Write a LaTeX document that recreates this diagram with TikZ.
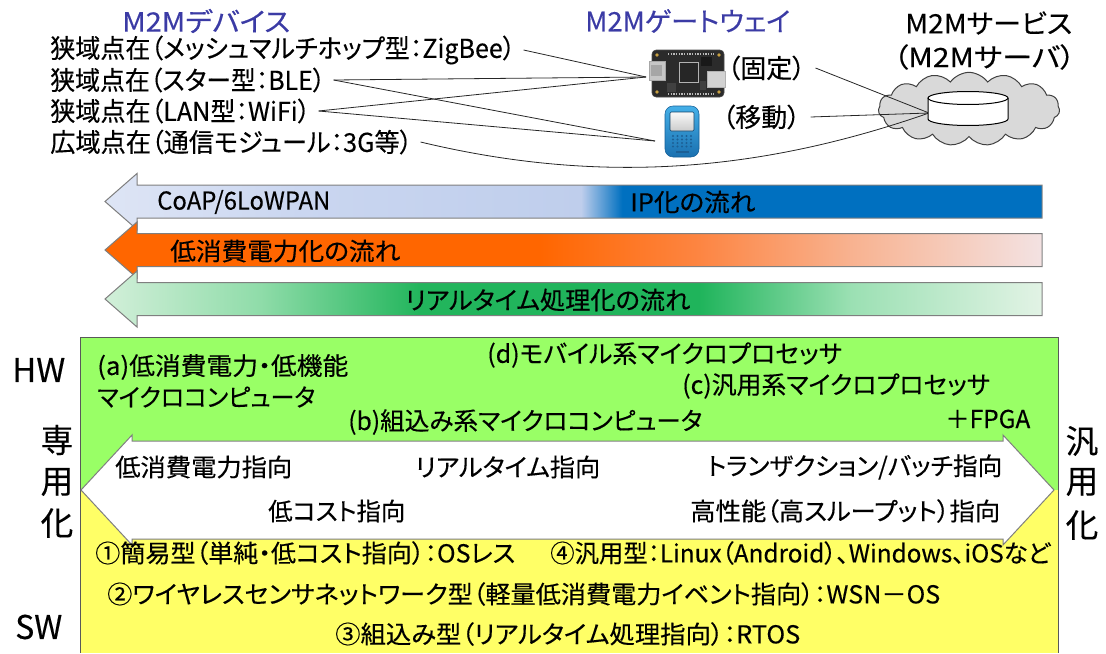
\documentclass[tikz,border=0pt]{standalone}
\usepackage{fontspec}
\setmainfont{Noto Sans CJK JP}[FakeBold=0.3, RawFeature=+palt]
\usepackage{graphicx}
\usetikzlibrary{shapes.symbols}

% one drawing unit = one pixel of a 1106 x 653 canvas
\newdimen\pxu \pxu=0.75pt
\newcommand\fw[2]{\resizebox{#1\pxu}{\height}{#2}}
\newcommand\szH{\fontsize{20pt}{23pt}\selectfont}
\newcommand\szA{\fontsize{19.5pt}{22pt}\selectfont}
\newcommand\szB{\fontsize{18.5pt}{21pt}\selectfont}
\newcommand\szS{\fontsize{24.5pt}{28pt}\selectfont}

\definecolor{m2mblue}{HTML}{3B3BA5}
\definecolor{hwgreen}{HTML}{99FF66}
\definecolor{swyellow}{HTML}{FFFF66}
\definecolor{panelline}{HTML}{595959}
\definecolor{arrowline}{HTML}{7F7F7F}
\definecolor{cloudfill}{HTML}{D9D9D9}
\definecolor{cloudline}{HTML}{404040}
\definecolor{brdbk}{HTML}{2B2B2B}
\definecolor{goldc}{HTML}{C8A040}
\definecolor{phoneA}{HTML}{45B0E8}
\definecolor{phoneB}{HTML}{1A70B0}
\definecolor{phoneC}{HTML}{155E96}
\definecolor{phoneK}{HTML}{1C5F95}

\definecolor{ipA}{HTML}{DEE5F5}
\definecolor{ipB}{HTML}{CAD6F0}
\definecolor{ipC}{HTML}{BFCEEC}
\definecolor{ipD}{HTML}{0070C0}
\definecolor{pwA}{HTML}{FF6600}
\definecolor{pwB}{HTML}{FD8542}
\definecolor{pwC}{HTML}{F8B290}
\definecolor{pwD}{HTML}{F3E2E2}
\definecolor{rtA}{HTML}{D2EFD9}
\definecolor{rtB}{HTML}{8FDCA9}
\definecolor{rtC}{HTML}{22B55C}
\definecolor{rtD}{HTML}{1FB45B}
\definecolor{rtE}{HTML}{9BE0B3}
\definecolor{rtF}{HTML}{E2F3E5}

% flow arrows: the path box is mapped onto 25bp..75bp
\pgfdeclarehorizontalshading{ipflow}{100bp}{color(0bp)=(ipA); color(25bp)=(ipA); color(35.4bp)=(ipB); color(50.4bp)=(ipC); color(52.6bp)=(ipD); color(100bp)=(ipD)}
\pgfdeclarehorizontalshading{pwflow}{100bp}{color(0bp)=(pwA); color(25bp)=(pwA); color(48.2bp)=(pwA); color(56.7bp)=(pwB); color(64.8bp)=(pwC); color(75bp)=(pwD); color(100bp)=(pwD)}
\pgfdeclarehorizontalshading{rtflow}{100bp}{color(0bp)=(rtA); color(25bp)=(rtA); color(33.3bp)=(rtB); color(41.8bp)=(rtC); color(56.7bp)=(rtD); color(64.8bp)=(rtE); color(75bp)=(rtF); color(100bp)=(rtF)}

\begin{document}
\begin{tikzpicture}[x=0.75pt,y=-0.75pt,
  lbl/.style={inner sep=0pt, anchor=west, font=\szA},
  dev/.style={inner ysep=0pt, inner xsep=6pt, anchor=west, font=\szA},
  hdr/.style={inner sep=0pt, anchor=west, font=\szH},
  ptxt/.style={inner sep=0pt, anchor=west, font=\szB},
  side/.style={inner sep=0pt, anchor=center, font=\szS},
  conn/.style={draw=black!85, line width=0.6pt},
  flow/.style={draw=arrowline, line width=0.75pt}]
\useasboundingbox (0,0) rectangle (1106,653);

% ---------- headings ----------
\node[hdr, text=m2mblue] (hdev) at (122,21) {\fw{168}{M2Mデバイス}};
\node[hdr, text=m2mblue] (hgw) at (585,21) {\fw{205}{M2Mゲートウェイ}};
\node[hdr] (hsv) at (905,23) {\fw{167}{M2Mサービス}};
\node[hdr] (hsv2) at (893,57) {\fw{182}{（M2Mサーバ）}};

% ---------- device classes (text starts at x=50) ----------
\node[dev] (d1) at (42,50) {\fw{465}{狭域点在（メッシュマルチホップ型：ZigBee）}};
\node[dev] (d2) at (42,80) {\fw{275}{狭域点在（スター型：BLE）}};
\node[dev] (d3) at (42,111) {\fw{260}{狭域点在（LAN型：WiFi）}};
\node[dev] (d4) at (42,142) {\fw{362}{広域点在（通信モジュール：3G等）}};

% ---------- gateways ----------
\node[dev, inner xsep=7.5pt] (gfix) at (717,68) {\fw{78}{（固定）}};
\node[dev, inner xsep=7.5pt] (gmob) at (712,117) {\fw{78}{（移動）}};

% board computer (fixed gateway)
\node[inner sep=0pt, minimum width=54pt, minimum height=34pt] (board) at (688,73.5) {};
\filldraw[fill=brdbk, draw=black!70, rounded corners=3pt] (652,50) rectangle (724,97);
\filldraw[fill=gray!45, draw=gray!70] (649,61) rectangle (665,80);
\fill[gray!70] (651,65) rectangle (662,76);
\filldraw[fill=black!85, draw=gray!60] (679,62) rectangle (698,82);
\fill[black!90] (701,57) rectangle (712,66);
\fill[black!75] (667,83) rectangle (676,92);
\fill[black!75] (700,81) rectangle (706,90);
\filldraw[fill=gray!35, draw=gray!60] (707,71) rectangle (725,87);
\draw[gray!55, line width=1.5pt, dash pattern=on 1pt off 1pt] (668,54) -- (714,54);
\draw[gray!55, line width=1.5pt, dash pattern=on 1pt off 1pt] (668,93.5) -- (714,93.5);
\foreach \p in {(657,55),(719,55),(657,92),(719,92)} \fill[goldc] \p circle[radius=1.8];

% handset (mobile gateway)
\node[inner sep=0pt, minimum width=26pt, minimum height=38pt] (phone) at (682,131) {};
\shadedraw[top color=phoneA, bottom color=phoneB, draw=phoneC, rounded corners=6pt] (665,106) rectangle (699,157);
\shadedraw[top color=gray!5, bottom color=gray!40, draw=phoneC!70!black, rounded corners=1pt] (670,112) rectangle (694,131);
\foreach \i in {0,...,4} \foreach \j in {0,...,3} \fill[phoneK] ({673+\i*4.5},{136+\j*3.5}) circle[radius=1.1];
\fill[phoneK] (676,150.5) rectangle (689,152.5);

\coordinate (bport) at (646,77);
\coordinate (pport) at (655,141);

% ---------- service cloud ----------
\node[cloud, cloud puffs=15, cloud puff arc=110, aspect=2.6, draw=cloudline, fill=cloudfill,
      line width=0.75pt, minimum width=136pt, minimum height=55pt, inner sep=0pt] (cloud) at (969,109) {};
\node[inner sep=0pt, minimum width=60pt, minimum height=25pt] (cyl) at (968,108.5) {};
\coordinate (cylin) at (929,113);

% ---------- connectors ----------
\draw[conn] (d1.east) -- (bport);
\draw[conn] (d2.east) -- (bport);
\draw[conn] (d2.east) -- (pport);
\draw[conn] (d3.east) -- (bport);
\draw[conn] (d3.east) -- (pport);
\draw[conn] (d4.east) .. controls (600,185) and (760,172) .. (cylin);
\draw[conn] (gfix.east) -- (cylin);
\draw[conn] (gmob.east) -- (cylin);

% database cylinder
\fill[white] (928,98) arc[start angle=180, end angle=360, x radius=40, y radius=6.5]
  -- (1008,119) arc[start angle=0, end angle=180, x radius=40, y radius=6.5] -- cycle;
\draw[black, line width=0.75pt] (928,98) -- (928,119) arc[start angle=180, end angle=0, x radius=40, y radius=6.5] -- (1008,98);
\draw[black, line width=0.75pt] (968,98) ellipse[x radius=40, y radius=6.5];

% ---------- trend arrows ----------
\shadedraw[flow, shading=ipflow] (105,201.5) -- (137,173.5) -- (137,185) -- (1042,185) -- (1042,218) -- (137,218) -- (137,229.5) -- cycle;
\node[lbl, font=\szB] (fip1) at (157,202) {\fw{173}{CoAP/6LoWPAN}};
\node[lbl, font=\szB] (fip2) at (630,202) {\fw{125}{IP化の流れ}};

\shadedraw[flow, shading=pwflow] (105,250) -- (137,222) -- (137,233.5) -- (1042,233.5) -- (1042,266.5) -- (137,266.5) -- (137,278) -- cycle;
\node[lbl, font=\szB] (fpw) at (170,251) {\fw{230}{低消費電力化の流れ}};

\shadedraw[flow, shading=rtflow] (105,299) -- (137,271) -- (137,282.5) -- (1042,282.5) -- (1042,315.5) -- (137,315.5) -- (137,327) -- cycle;
\node[lbl, font=\szB] (frt) at (405,300) {\fw{285}{リアルタイム処理化の流れ}};

% ---------- HW / SW panel ----------
\fill[hwgreen] (80,337) rectangle (1058,490);
\fill[swyellow] (80,490) rectangle (1058,653);
\draw[panelline, line width=0.75pt] (80,653) -- (80,337) -- (1058,337) -- (1058,653);
\filldraw[fill=white, draw=arrowline, line width=0.75pt]
  (81,490) -- (132,435) -- (132,441) -- (1003,441) -- (1003,435) -- (1054,490)
  -- (1003,545) -- (1003,539) -- (132,539) -- (132,545) -- cycle;

\node[ptxt] (ha1) at (97,367) {\fw{251}{(a)低消費電力・低機能}};
\node[ptxt] (ha2) at (97,397) {\fw{218}{マイクロコンピュータ}};
\node[ptxt] (hd) at (487,355) {\fw{355}{(d)モバイル系マイクロプロセッサ}};
\node[ptxt] (hc) at (682,386) {\fw{308}{(c)汎用系マイクロプロセッサ}};
\node[ptxt] (hb) at (348,422) {\fw{354}{(b)組込み系マイクロコンピュータ}};
\node[ptxt] (hf) at (945,419) {\fw{85}{＋FPGA}};

\node[ptxt] (o1) at (115,467) {\fw{177}{低消費電力指向}};
\node[ptxt] (o2) at (415,467) {\fw{185}{リアルタイム指向}};
\node[ptxt] (o3) at (707,467) {\fw{295}{トランザクション/バッチ指向}};
\node[ptxt] (o4) at (268,511) {\fw{137}{低コスト指向}};
\node[ptxt] (o5) at (690,511) {\fw{310}{高性能（高スループット）指向}};

\node[ptxt] (s1) at (95,553) {\fw{420}{①簡易型（単純・低コスト指向）：OSレス}};
\node[ptxt] (s4) at (550,553) {\fw{500}{④汎用型：Linux（Android）、Windows、iOSなど}};
\node[ptxt] (s2) at (107,594) {\fw{833}{②ワイヤレスセンサネットワーク型（軽量低消費電力イベント指向）：WSN－OS}};
\node[ptxt] (s3) at (335,634) {\fw{465}{③組込み型（リアルタイム処理指向）：RTOS}};

% ---------- axis labels ----------
\node[inner sep=0pt, anchor=west, font=\szS] (lhw) at (12,370) {\fw{53}{HW}};
\node[inner sep=0pt, anchor=west, font=\szS] (lsw) at (15,627) {\fw{47}{SW}};
\node[side] (l1) at (57,440) {専};
\node[side] (l2) at (57,482) {用};
\node[side] (l3) at (57,523) {化};
\node[side] (r1) at (1082,441) {汎};
\node[side] (r2) at (1082,482) {用};
\node[side] (r3) at (1082,525) {化};
\end{tikzpicture}
\end{document}
